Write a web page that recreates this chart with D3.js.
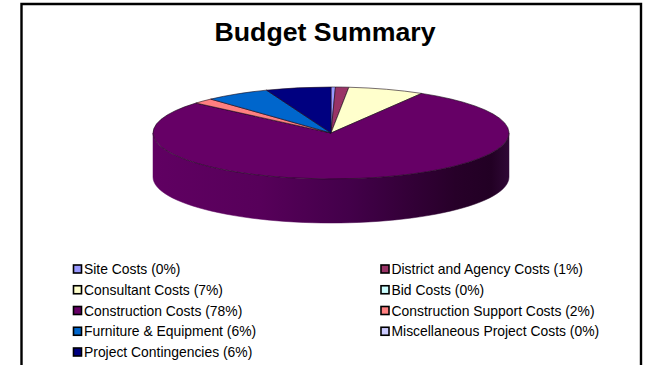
<!DOCTYPE html>
<html>
<head>
<meta charset="utf-8">
<script src="https://cdn.jsdelivr.net/npm/d3@7/dist/d3.min.js"></script>
<style>
html,body{margin:0;padding:0;background:#fff;overflow:hidden}
text{font-family:"Liberation Sans",Arial,sans-serif;fill:#000}
</style>
</head>
<body>
<svg id="chart" width="646" height="365"></svg>
<script>
// Budget shares, in percent; labels show the rounded figure
const categories = ["Site Costs","District and Agency Costs","Consultant Costs","Bid Costs","Construction Costs","Construction Support Costs","Furniture & Equipment","Miscellaneous Project Costs","Project Contingencies"];
const shares = [0.4,1.2,6.9,0,77.7,1.9,5.9,0,5.9];
const colours = ["#9999ff","#993366","#ffffcc","#ccffff","#660066","#ff8080","#0066cc","#ccccff","#000080"];
const chartTitle = "Budget Summary";

const svg = d3.select("#chart");
const W = 646, H = 365;
const cx = 331, cy = 133, rx = 178, ry = 46, depth = 44;

// Slide frame, open at the bottom
svg.append("path")
  .attr("d", d3.line()([[21.5,H+4],[21.5,4],[641,4],[641,H+4]]))
  .attr("fill","none").attr("stroke","#000").attr("stroke-width",2.4);

svg.append("text").attr("x",325).attr("y",41).attr("text-anchor","middle")
  .attr("font-size",26.7).attr("font-weight","bold").text(chartTitle);

const pie = d3.pie().value(d => d.share).sort(null).startAngle(0).endAngle(2*Math.PI);
const rows = categories.map((name,i) => ({name, share:shares[i], colour:colours[i]}));
const arcs = pie(rows);

// Shading across the rim, lit on the left and falling off to the right
const defs = svg.append("defs");
const wall = defs.append("linearGradient").attr("id","wall")
  .attr("gradientUnits","userSpaceOnUse").attr("x1",cx-rx).attr("x2",cx+rx).attr("y1",0).attr("y2",0);
[[0,"#600062"],[0.3,"#57005a"],[0.55,"#43004a"],[0.85,"#270029"],[0.95,"#220024"],[1,"#300836"]]
  .forEach(([o,c]) => wall.append("stop").attr("offset",o).attr("stop-color",c));

const px = a => cx + rx*Math.sin(a);
const py = (a,dy=0) => cy - ry*Math.cos(a) + dy;

// Front-facing rim, one piece for each slice that reaches the lower half
const rim = svg.append("g");
arcs.forEach(d => {
  const a0 = Math.max(d.startAngle, Math.PI/2), a1 = Math.min(d.endAngle, 3*Math.PI/2);
  if (a1 <= a0) return;
  const steps = d3.range(0,61).map(k => a0 + (a1-a0)*k/60);
  const pts = steps.map(a => [px(a),py(a)]).concat(steps.slice().reverse().map(a => [px(a),py(a,depth)]));
  rim.append("path").attr("d", d3.line()(pts)+"Z")
    .attr("fill","url(#wall)").attr("stroke","url(#wall)").attr("stroke-width",0.5);
});

// Top face: a circular pie squashed into an ellipse
const arcGen = d3.arc().innerRadius(0).outerRadius(rx);
svg.append("g").attr("transform",`translate(${cx},${cy}) scale(1,${ry/rx})`)
  .selectAll("path").data(arcs.filter(d => d.value > 0)).join("path")
  .attr("d",arcGen).attr("fill",d => d.data.colour)
  .attr("stroke","#1a0a1a").attr("stroke-width",0.6).attr("vector-effect","non-scaling-stroke");

// Legend, two columns read left to right
const col = d3.scalePoint().domain([0,1]).range([73.5,381]);
const row = d3.scaleLinear().domain([0,4]).range([269,352]);
const legend = svg.append("g").selectAll("g").data(rows).join("g")
  .attr("transform",(d,i) => `translate(${col(i%2)},${row(Math.floor(i/2))})`);
legend.append("rect").attr("x",0).attr("y",-4).attr("width",8).attr("height",8)
  .attr("fill",d => d.colour).attr("stroke","#000").attr("stroke-width",1.6);
legend.append("text").attr("x",10.5).attr("y",5).attr("font-size",13.9)
  .text(d => `${d.name} (${Math.round(d.share)}%)`);
</script>
</body>
</html>
